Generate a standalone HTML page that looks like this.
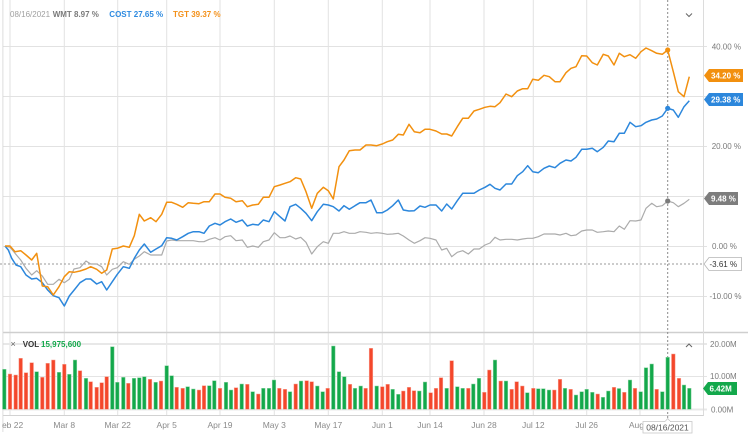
<!DOCTYPE html>
<html><head><meta charset="utf-8"><style>
html,body{margin:0;padding:0;background:#fff;}
svg{display:block;font-family:"Liberation Sans",sans-serif;}
.g{fill:#13a84b;stroke:#8fd6a6;stroke-width:0.5}
.r{fill:#f4472b;stroke:#f8a596;stroke-width:0.5}
</style></head><body>
<svg width="748" height="442" viewBox="0 0 748 442" xmlns="http://www.w3.org/2000/svg">
<defs><clipPath id="cl"><rect x="2.5" y="0" width="746" height="442"/></clipPath></defs>
<rect width="748" height="442" fill="#fff"/>
<g clip-path="url(#cl)">
<!-- vertical grid -->
<g stroke="#e2e2e2" stroke-width="1">
<line x1="10" y1="0" x2="10" y2="415.5"/><line x1="64.3" y1="0" x2="64.3" y2="415.5"/>
<line x1="117.7" y1="0" x2="117.7" y2="415.5"/><line x1="166.7" y1="0" x2="166.7" y2="415.5"/>
<line x1="220" y1="0" x2="220" y2="415.5"/><line x1="274.3" y1="0" x2="274.3" y2="415.5"/>
<line x1="328.3" y1="0" x2="328.3" y2="415.5"/><line x1="382.3" y1="0" x2="382.3" y2="415.5"/>
<line x1="430" y1="0" x2="430" y2="415.5"/><line x1="484" y1="0" x2="484" y2="415.5"/>
<line x1="533.3" y1="0" x2="533.3" y2="415.5"/><line x1="586.7" y1="0" x2="586.7" y2="415.5"/>
<line x1="640" y1="0" x2="640" y2="415.5"/>
</g>
<!-- horizontal grid main -->
<g stroke="#e2e2e2" stroke-width="1">
<line x1="0" y1="46.5" x2="707" y2="46.5"/><line x1="0" y1="96.5" x2="707" y2="96.5"/>
<line x1="0" y1="146.5" x2="707" y2="146.5"/><line x1="0" y1="196.5" x2="707" y2="196.5"/>
<line x1="0" y1="246.5" x2="707" y2="246.5"/><line x1="0" y1="296.5" x2="707" y2="296.5"/>
</g>
<!-- volume pane lines -->
<line x1="0" y1="332.5" x2="748" y2="332.5" stroke="#cfcfcf" stroke-width="1.5"/>
<line x1="0" y1="344" x2="707" y2="344" stroke="#e8e8e8" stroke-width="2"/>
<line x1="0" y1="376.5" x2="707" y2="376.5" stroke="#e4e4e4" stroke-width="1"/>
<line x1="0" y1="409.5" x2="707" y2="409.5" stroke="#e8e8e8" stroke-width="2"/>
<line x1="0" y1="415.5" x2="704" y2="415.5" stroke="#d2d2d2" stroke-width="1"/>
<line x1="2.8" y1="0" x2="2.8" y2="432" stroke="#d6d6d6" stroke-width="1"/>
</g>
<line x1="703.5" y1="0" x2="703.5" y2="415.5" stroke="#dcdcdc" stroke-width="1"/>

<!-- legend -->
<text x="10" y="17.2" font-size="8" fill="#a0a0a0">08/16/2021</text>
<text x="52.7" y="17.2" font-size="8" font-weight="bold" fill="#7a7a7a">WMT 8.97 %</text>
<text x="109.3" y="17.2" font-size="8" font-weight="bold" fill="#2d8ae0">COST 27.65 %</text>
<text x="173" y="17.2" font-size="8" font-weight="bold" fill="#f39019">TGT 39.37 %</text>
<polyline points="686,13.5 689,16.5 692,13.5" fill="none" stroke="#666" stroke-width="1"/>

<!-- crosshair -->
<line x1="667.7" y1="0" x2="667.7" y2="419" stroke="#8a8a8a" stroke-width="1" stroke-dasharray="2,2"/>
<line x1="0" y1="264" x2="704" y2="264" stroke="#9a9a9a" stroke-width="1" stroke-dasharray="2,2"/>

<!-- series -->
<polyline fill="none" stroke="#ababab" stroke-width="1.2" stroke-linejoin="round" points="5,246 10,247.3 15,253.3 20.7,260 26,268.3 31.7,275 36.7,270.7 42.3,276 47.7,284.3 53.3,284.3 59,279.3 64.3,282.7 69.3,279.3 74,269 80,267.7 86,261 90.7,264 96.7,264 101.7,266.7 106.7,275 112.3,269.3 117.3,267.7 123.3,261.7 129.3,264.3 134.3,259.3 139.3,256 144.3,251.7 150.7,255 156,255 161.7,255 166.7,241 171.7,240 176.7,240.7 182.7,240.7 188.3,240.7 193.3,240.7 199,241.7 204,241.7 209.3,239.3 215,237.7 220,240 225,236.7 230.7,235.7 236,240.7 242.3,240 247.3,247.3 252.7,246 258.3,247.3 263.3,241.7 269,240 274.3,232.7 280,237.7 285,237.7 290,236 295.7,239 300.7,237.3 306,242.3 311.7,254 317.3,246.7 323.3,241.7 328.3,243.3 333.3,233.3 339,233.3 344,231.7 349.3,233.3 355,233.3 360,231.7 366,232.3 371,233.3 376.7,232.7 382.3,233.3 387.3,234.3 392.7,234 398.3,233.3 403.3,236 409,240 414.3,243.3 420,240.7 425,237.7 430,238.3 436,240 441.7,250 446.7,248.3 451.7,256.7 457.3,252.3 462.7,250.7 468.3,254 474,249 479.3,249 485,245 490,243 495,237.3 500,240 506,239.3 511.7,239.3 517.3,240 522.7,239 527.7,238.3 532.7,238.3 538.3,236.7 544,234 549.3,234 555,234 560,235 566,233.3 571,235.7 576,235 581.7,231 586.7,230 592.3,230 597.3,232.3 603.3,231.7 608.3,231 614,231.7 619.3,226 624.3,229.3 630,220.7 635.7,221 641,220 646,208.3 651.7,203.3 656.7,206.7 662.3,205.7 667.7,201 673.3,202.7 678.3,206.7 684,203.3 689.3,199.3"/>
<polyline fill="none" stroke="#2c87dc" stroke-width="1.5" stroke-linejoin="round" points="5,246 8.3,250 11.7,258.3 16,265 20.7,266.7 26,275 31.7,279 36.7,278.3 42.3,282.7 47.7,290 53.3,295.7 59,297.7 64.3,306 69.3,296 75,289 80,282.7 86,279 90.7,279 96.7,284 101.7,281.7 106.7,290 112.3,281.7 117.3,274.3 123.3,266.7 129.3,268.3 134.3,258.3 139.3,250 144.3,244 150.7,252.3 156,249 161.7,245.7 166.7,237.7 171.7,238.3 176.7,240 182.7,236.7 188.3,233.3 193.3,231.7 199,231.7 204,233.3 209.3,226 215,223.3 220,225 225,221.7 230.7,219 236,222.3 242.3,220 247.3,226 252.7,224.3 258.3,225 263.3,220 269,221.7 274.3,211.7 280,216.7 285,221 290,206.7 295.7,204.3 300.7,208.3 306,213.3 311.7,220.7 317.3,211.7 323.3,204.3 328.3,205 333.3,206.7 339,211 344,205.7 349.3,209.3 355,205.7 360,202.7 366,202.7 371,200 376.7,212.7 382.3,212.7 387.3,210 392.7,205.7 398.3,200 403.3,210 409,211 414.3,210.7 420,206 425,207.3 430,205 436,205 441.7,211 446.7,204 451.7,209 457.3,200.7 462.7,193.3 468.3,193.3 474,193.3 479.3,190 485,187.3 490,184.3 495,188.3 500,190 506,184 511.7,184 517.3,175.7 522.7,171.7 527.7,165.7 532.7,171.7 538.3,172.7 544,168.3 549.3,166 555,167.7 560,163.3 566,160 571,161 576,157.3 581.7,149.3 586.7,149.3 592.3,148.3 597.3,151.7 603.3,147.3 608.3,141 614,141.7 619.3,133.3 624.3,133.3 630,122.3 635.7,126.7 641,125.7 646,122.3 651.7,120 656.7,119 662.3,116 667.7,108.3 673.3,110 678.3,117.3 684,106.7 689.3,100.7"/>
<polyline fill="none" stroke="#f2900f" stroke-width="1.5" stroke-linejoin="round" points="5,246 10,246 15,251.7 20.7,250.7 26,255 31.7,260 36.7,253.3 42.3,286 47.7,286.7 53.3,295 59,286.7 64.3,276.7 69.3,271.7 74,272.3 80,271 86,269 90.7,266.7 96.7,269.3 101.7,273.3 106.7,270 112.3,249 117.3,248.3 123.3,246 129.3,247.3 134.3,235.7 139.3,214.3 144.3,221 150.7,217.7 156,221.7 161.7,214.3 166.7,202.3 171.7,202.3 176.7,204.3 182.7,207.3 188.3,202.7 193.3,203.3 199,203.7 204,201.7 209.3,201.7 215,194 220,194 225,197.3 230.7,198.3 236,201.7 242.3,200.7 247.3,206.7 252.7,205 258.3,204.3 263.3,197.3 269,197.3 274.3,186.7 280,185 285,183.3 290,181.7 295.7,177.7 300.7,179 306,191.7 311.7,208.3 317.3,193.3 323.3,187.3 328.3,190.7 333.3,199 339,166.7 344,160 349.3,150.7 355,150 360,150 366,145 371,145 376.7,145.7 382.3,144 387.3,141.7 392.7,140 398.3,134.3 403.3,135 409,124.3 414.3,131.7 420,132.7 425,129.3 430,129.3 436,131 441.7,134 446.7,134 451.7,136 457.3,126.7 462.7,118.3 468.3,118.3 474,111 479.3,109.3 485,107.3 490,106.3 495,106.7 500,102.7 506,94 511.7,96.7 517.3,91 522.7,88.7 527.7,88.7 532.7,79.3 538.3,80.3 544,75.3 549.3,76.7 555,81.7 560,81.7 566,72.7 571,68.3 576,66.7 581.7,55.7 586.7,56 592.3,62.7 597.3,65 603.3,54.3 608.3,56 614,65 619.3,53.3 624.3,56.7 630,54.7 635.7,58.3 641,51.7 646,48 651.7,50.7 656.7,53.3 662.3,54.3 667.7,50 673.3,71.7 678.3,91.7 684,96.7 689.3,76.7"/>
<circle cx="667.7" cy="50" r="2.6" fill="#f2900f"/>
<circle cx="667.7" cy="108.3" r="2.6" fill="#2c87dc"/>
<circle cx="667.7" cy="201" r="2.6" fill="#7a7a7a"/>

<!-- y axis labels -->
<g font-size="8" fill="#7a7a7a">
<text x="711.7" y="49.7">40.00 %</text>
<text x="711.7" y="149">20.00 %</text>
<text x="712" y="249">0.00 %</text>
<text x="709.5" y="299">-10.00 %</text>
<text x="710" y="347">20.00M</text>
<text x="710" y="379">10.00M</text>
<text x="711" y="412.3">0.00M</text>
</g>
<!-- badges -->
<path d="M704,75.5 L709,69 L743,69 L743,82 L709,82 Z" fill="#f2900f"/>
<text x="711" y="78.5" font-size="8" font-weight="bold" fill="#fff">34.20 %</text>
<path d="M704,99.5 L709,93 L743,93 L743,106 L709,106 Z" fill="#2c87dc"/>
<text x="711" y="102.5" font-size="8" font-weight="bold" fill="#fff">29.38 %</text>
<path d="M704,198.5 L709,192 L738,192 L738,205 L709,205 Z" fill="#7d7d7d"/>
<text x="711" y="201.5" font-size="8" font-weight="bold" fill="#fff">9.48 %</text>
<path d="M704,264 L709,257.5 L741.5,257.5 L741.5,270.5 L709,270.5 Z" fill="#fff" stroke="#b5b5b5" stroke-width="0.8"/>
<text x="709.5" y="267" font-size="8" fill="#333">-3.61 %</text>
<path d="M703,388.5 L708,382 L737,382 L737,395 L708,395 Z" fill="#13a84b"/>
<text x="709.5" y="391.5" font-size="8" font-weight="bold" fill="#fff">6.42M</text>

<!-- volume header -->
<text x="10.5" y="347" font-size="9" fill="#666">×</text>
<text x="22.7" y="347" font-size="8" font-weight="bold" fill="#333">VOL</text>
<text x="41" y="347" font-size="8" font-weight="bold" fill="#13a84b">15,975,600</text>
<polyline points="686,347 689,344 692,347" fill="none" stroke="#666" stroke-width="1"/>

<!-- volume bars -->
<g>
<rect class="g" x="2.5" y="369.3" width="3.6" height="40"/>
<rect class="r" x="8.2" y="374" width="3.6" height="35.3"/>
<rect class="r" x="13.9" y="375" width="3.6" height="34.3"/>
<rect class="r" x="18.9" y="358.3" width="3.6" height="51"/>
<rect class="r" x="24.2" y="372.7" width="3.6" height="36.6"/>
<rect class="r" x="29.9" y="362.7" width="3.6" height="46.6"/>
<rect class="g" x="34.9" y="371.7" width="3.6" height="37.6"/>
<rect class="r" x="40.5" y="377.3" width="3.6" height="32"/>
<rect class="r" x="45.9" y="363.3" width="3.6" height="46"/>
<rect class="r" x="51.5" y="360" width="3.6" height="49.3"/>
<rect class="g" x="57.2" y="372.3" width="3.6" height="37"/>
<rect class="r" x="62.5" y="364.3" width="3.6" height="45"/>
<rect class="g" x="67.5" y="374.3" width="3.6" height="35"/>
<rect class="g" x="73.2" y="360" width="3.6" height="49.3"/>
<rect class="r" x="78.2" y="370.7" width="3.6" height="38.6"/>
<rect class="g" x="84.2" y="378.3" width="3.6" height="31"/>
<rect class="r" x="88.9" y="381.7" width="3.6" height="27.6"/>
<rect class="r" x="94.9" y="387.3" width="3.6" height="22"/>
<rect class="r" x="99.9" y="382.7" width="3.6" height="26.6"/>
<rect class="r" x="104.9" y="376.7" width="3.6" height="32.6"/>
<rect class="g" x="110.5" y="346.7" width="3.6" height="62.6"/>
<rect class="g" x="115.5" y="382.3" width="3.6" height="27"/>
<rect class="g" x="121.5" y="377.3" width="3.6" height="32"/>
<rect class="r" x="126.5" y="383.3" width="3.6" height="26"/>
<rect class="g" x="132.2" y="378.3" width="3.6" height="31"/>
<rect class="g" x="137.5" y="377.7" width="3.6" height="31.6"/>
<rect class="g" x="142.5" y="376.7" width="3.6" height="32.6"/>
<rect class="r" x="148.2" y="379.3" width="3.6" height="30"/>
<rect class="g" x="153.9" y="382.3" width="3.6" height="27"/>
<rect class="r" x="159.2" y="381" width="3.6" height="28.3"/>
<rect class="g" x="164.9" y="365.7" width="3.6" height="43.6"/>
<rect class="g" x="169.9" y="375.7" width="3.6" height="33.6"/>
<rect class="r" x="174.9" y="387.3" width="3.6" height="22"/>
<rect class="r" x="180.9" y="388.3" width="3.6" height="21"/>
<rect class="g" x="185.9" y="386.7" width="3.6" height="22.6"/>
<rect class="g" x="191.5" y="389" width="3.6" height="20.3"/>
<rect class="r" x="197.2" y="390" width="3.6" height="19.3"/>
<rect class="r" x="202.2" y="385.7" width="3.6" height="23.6"/>
<rect class="g" x="207.5" y="385.7" width="3.6" height="23.6"/>
<rect class="g" x="212.5" y="380.7" width="3.6" height="28.6"/>
<rect class="r" x="218.2" y="388.3" width="3.6" height="21"/>
<rect class="g" x="224.2" y="382.3" width="3.6" height="27"/>
<rect class="g" x="229.2" y="390" width="3.6" height="19.3"/>
<rect class="r" x="234.2" y="387.7" width="3.6" height="21.6"/>
<rect class="g" x="239.9" y="384" width="3.6" height="25.3"/>
<rect class="r" x="245.5" y="384.3" width="3.6" height="25"/>
<rect class="g" x="250.9" y="391.7" width="3.6" height="17.6"/>
<rect class="r" x="256.5" y="394" width="3.6" height="15.3"/>
<rect class="g" x="261.5" y="388.3" width="3.6" height="21"/>
<rect class="g" x="267.2" y="388.3" width="3.6" height="21"/>
<rect class="g" x="272.2" y="380" width="3.6" height="29.3"/>
<rect class="r" x="277.5" y="388.3" width="3.6" height="21"/>
<rect class="r" x="283.2" y="389.3" width="3.6" height="20"/>
<rect class="g" x="288.2" y="391.7" width="3.6" height="17.6"/>
<rect class="r" x="293.9" y="384" width="3.6" height="25.3"/>
<rect class="g" x="299.2" y="381" width="3.6" height="28.3"/>
<rect class="r" x="304.9" y="380.7" width="3.6" height="28.6"/>
<rect class="r" x="309.9" y="381.7" width="3.6" height="27.6"/>
<rect class="g" x="315.5" y="386" width="3.6" height="23.3"/>
<rect class="g" x="320.9" y="391.7" width="3.6" height="17.6"/>
<rect class="r" x="325.9" y="388.3" width="3.6" height="21"/>
<rect class="g" x="331.5" y="346" width="3.6" height="63.3"/>
<rect class="g" x="337.2" y="371.7" width="3.6" height="37.6"/>
<rect class="g" x="342.5" y="376.7" width="3.6" height="32.6"/>
<rect class="r" x="348.2" y="384.3" width="3.6" height="25"/>
<rect class="g" x="353.2" y="388.3" width="3.6" height="21"/>
<rect class="g" x="358.9" y="386" width="3.6" height="23.3"/>
<rect class="r" x="363.9" y="388.3" width="3.6" height="21"/>
<rect class="r" x="369.2" y="348.3" width="3.6" height="61"/>
<rect class="g" x="374.9" y="386" width="3.6" height="23.3"/>
<rect class="r" x="380.5" y="386.7" width="3.6" height="22.6"/>
<rect class="r" x="385.9" y="384.3" width="3.6" height="25"/>
<rect class="g" x="390.9" y="389.3" width="3.6" height="20"/>
<rect class="g" x="396.5" y="394.3" width="3.6" height="15"/>
<rect class="r" x="401.5" y="391" width="3.6" height="18.3"/>
<rect class="r" x="407.2" y="387.3" width="3.6" height="22"/>
<rect class="r" x="412.2" y="390.7" width="3.6" height="18.6"/>
<rect class="g" x="417.5" y="391" width="3.6" height="18.3"/>
<rect class="g" x="423.2" y="382" width="3.6" height="27.3"/>
<rect class="r" x="428.9" y="392.7" width="3.6" height="16.6"/>
<rect class="r" x="434.2" y="388.3" width="3.6" height="21"/>
<rect class="r" x="439.2" y="377.7" width="3.6" height="31.6"/>
<rect class="g" x="444.9" y="388.3" width="3.6" height="21"/>
<rect class="r" x="449.9" y="360.7" width="3.6" height="48.6"/>
<rect class="g" x="455.5" y="386.7" width="3.6" height="22.6"/>
<rect class="g" x="460.9" y="388.3" width="3.6" height="21"/>
<rect class="r" x="466.5" y="388.3" width="3.6" height="21"/>
<rect class="g" x="471.5" y="384" width="3.6" height="25.3"/>
<rect class="g" x="477.2" y="378.3" width="3.6" height="31"/>
<rect class="r" x="482.5" y="392.3" width="3.6" height="17"/>
<rect class="r" x="487.5" y="370" width="3.6" height="39.3"/>
<rect class="g" x="493.2" y="360" width="3.6" height="49.3"/>
<rect class="r" x="498.9" y="381" width="3.6" height="28.3"/>
<rect class="g" x="504.2" y="381" width="3.6" height="28.3"/>
<rect class="r" x="509.9" y="389.3" width="3.6" height="20"/>
<rect class="r" x="514.9" y="381.7" width="3.6" height="27.6"/>
<rect class="r" x="520.5" y="386" width="3.6" height="23.3"/>
<rect class="g" x="525.5" y="392.7" width="3.6" height="16.6"/>
<rect class="r" x="531.5" y="388.3" width="3.6" height="21"/>
<rect class="g" x="536.5" y="388.7" width="3.6" height="20.6"/>
<rect class="g" x="541.5" y="388.7" width="3.6" height="20.6"/>
<rect class="g" x="547.2" y="390" width="3.6" height="19.3"/>
<rect class="r" x="552.5" y="390" width="3.6" height="19.3"/>
<rect class="r" x="558.2" y="379.3" width="3.6" height="30"/>
<rect class="g" x="563.2" y="388.3" width="3.6" height="21"/>
<rect class="r" x="568.9" y="389.3" width="3.6" height="20"/>
<rect class="g" x="574.2" y="395" width="3.6" height="14.3"/>
<rect class="g" x="579.9" y="391.7" width="3.6" height="17.6"/>
<rect class="g" x="584.9" y="389.3" width="3.6" height="20"/>
<rect class="g" x="590.5" y="392.3" width="3.6" height="17"/>
<rect class="r" x="595.9" y="394" width="3.6" height="15.3"/>
<rect class="g" x="601.2" y="397.3" width="3.6" height="12"/>
<rect class="g" x="606.5" y="391" width="3.6" height="18.3"/>
<rect class="r" x="612.2" y="387.3" width="3.6" height="22"/>
<rect class="g" x="617.2" y="388.5" width="3.6" height="20.8"/>
<rect class="r" x="622.5" y="392.3" width="3.6" height="17"/>
<rect class="g" x="628.2" y="380" width="3.6" height="29.3"/>
<rect class="r" x="633.2" y="388.3" width="3.6" height="21"/>
<rect class="g" x="638.9" y="391.7" width="3.6" height="17.6"/>
<rect class="g" x="644.2" y="367.7" width="3.6" height="41.6"/>
<rect class="g" x="649.9" y="364" width="3.6" height="45.3"/>
<rect class="r" x="654.9" y="389.3" width="3.6" height="20"/>
<rect class="g" x="660.5" y="391.7" width="3.6" height="17.6"/>
<rect class="g" x="665.9" y="357.3" width="3.6" height="52"/>
<rect class="r" x="671.5" y="354" width="3.6" height="55.3"/>
<rect class="r" x="677.2" y="378.3" width="3.6" height="31"/>
<rect class="g" x="682.2" y="385" width="3.6" height="24.3"/>
<rect class="g" x="687.5" y="388.3" width="3.6" height="21"/>
</g>

<!-- x axis labels -->
<g clip-path="url(#cl)" font-size="8.5" fill="#8a8a8a" text-anchor="middle">
<text x="10" y="428">Feb 22</text>
<text x="64.3" y="428">Mar 8</text>
<text x="117.7" y="428">Mar 22</text>
<text x="166.7" y="428">Apr 5</text>
<text x="220" y="428">Apr 19</text>
<text x="274.3" y="428">May 3</text>
<text x="328.3" y="428">May 17</text>
<text x="382.3" y="428">Jun 1</text>
<text x="430" y="428">Jun 14</text>
<text x="484" y="428">Jun 28</text>
<text x="533.3" y="428">Jul 12</text>
<text x="586.7" y="428">Jul 26</text>
<text x="640" y="428">Aug 9</text>
</g>
<!-- date tooltip -->
<rect x="643" y="421.5" width="49" height="11.5" fill="#fff" stroke="#c8c8c8" stroke-width="0.8"/>
<path d="M665,421.6 L667.7,418.5 L670.4,421.6 Z" fill="#fff" stroke="#c8c8c8" stroke-width="0.8"/>
<line x1="665.4" y1="421.5" x2="670" y2="421.5" stroke="#fff" stroke-width="1"/>
<text x="667.5" y="430.3" font-size="8.5" fill="#555" text-anchor="middle">08/16/2021</text>
</svg>
</body></html>
